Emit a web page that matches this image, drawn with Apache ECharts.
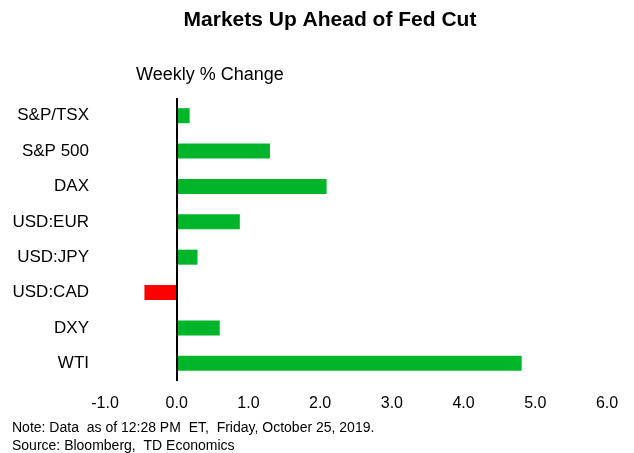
<!DOCTYPE html>
<html>
<head>
<meta charset="utf-8">
<script src="https://cdn.jsdelivr.net/npm/echarts@6/dist/echarts.min.js"></script>
<style>html,body{margin:0;padding:0;background:#fff}#c{width:634px;height:453px}</style>
</head>
<body>
<div id="c"></div>
<script>
const categories = ['S&P/TSX','S&P 500','DAX','USD:EUR','USD:JPY','USD:CAD','DXY','WTI'];
const values = [0.18, 1.30, 2.09, 0.88, 0.29, -0.45, 0.60, 4.81];
const xTicks = { min: -1, max: 6, step: 1 };
const titleText = 'Markets Up Ahead of Fed Cut';
const subtitleText = 'Weekly % Change';
const noteLines = ['Note: Data  as of 12:28 PM  ET,  Friday, October 25, 2019.', 'Source: Bloomberg,  TD Economics'];

const FONT = '"Liberation Sans", Arial, sans-serif';
const chart = echarts.init(document.getElementById('c'), null, {renderer: 'canvas'});
chart.setOption({
  animation: false,
  backgroundColor: '#fff',
  grid: { left: 105, right: 27, top: 98, bottom: 72, containLabel: false },
  xAxis: {
    type: 'value', min: xTicks.min, max: xTicks.max, interval: xTicks.step,
    axisLine: { show: false }, axisTick: { show: false }, splitLine: { show: false },
    axisLabel: { formatter: v => v.toFixed(1), color: '#000', fontSize: 16, fontFamily: FONT, margin: 15 }
  },
  yAxis: {
    type: 'category', data: categories, inverse: true,
    axisLine: { show: false }, axisTick: { show: false },
    axisLabel: { color: '#000', fontSize: 17, fontFamily: FONT, margin: 16 }
  },
  series: [{
    type: 'bar', data: values.map(v => ({ value: v, itemStyle: { color: v < 0 ? '#ff0000' : '#00b52a' } })),
    barWidth: 15,
    markLine: {
      silent: true, symbol: 'none', label: { show: false },
      lineStyle: { color: '#000', width: 2, type: 'solid' },
      data: [{ xAxis: 0 }]
    }
  }],
  graphic: [
    { type: 'text', x: 330, y: 20, scaleX: 1.05, style: { text: titleText, font: 'bold 20px ' + FONT, fill: '#000', textAlign: 'center', textVerticalAlign: 'middle' } },
    { type: 'text', x: 136, y: 75, style: { text: subtitleText, font: '18px ' + FONT, fill: '#000', textAlign: 'left', textVerticalAlign: 'middle' } },
    { type: 'text', x: 12, y: 428, style: { text: noteLines[0], font: '14px ' + FONT, fill: '#000', textVerticalAlign: 'middle' } },
    { type: 'text', x: 12, y: 446, style: { text: noteLines[1], font: '14px ' + FONT, fill: '#000', textVerticalAlign: 'middle' } }
  ]
});
</script>
</body>
</html>
